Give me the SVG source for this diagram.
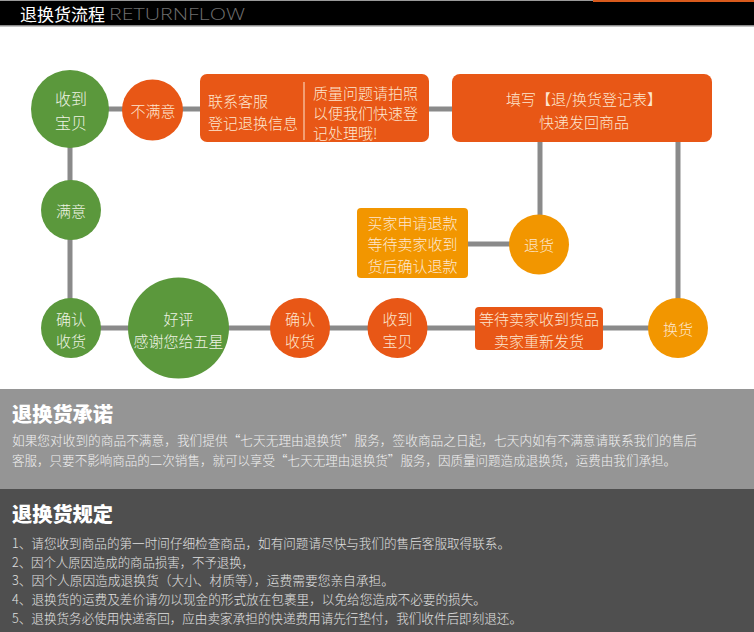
<svg xmlns="http://www.w3.org/2000/svg" width="754" height="632" viewBox="0 0 754 632">
<style>
text{font-family:"Noto Sans CJK SC","Liberation Sans",sans-serif;}
.n{font-size:15px;font-weight:300;dominant-baseline:central;text-anchor:middle;}
.g{fill:#eef3e4;}
.o{fill:#fde6cf;}
.conn{stroke:#8a8a8a;stroke-width:5;fill:none;}
.green{fill:#5b983c;}
.red{fill:#e85716;}
.amber{fill:#f29600;}
.sec{fill:#ffffff;font-size:20px;font-weight:900;dominant-baseline:central;}
.p1{fill:#f0f0f0;font-size:12.7px;font-weight:300;dominant-baseline:central;}
.p2{fill:#e0e0e0;font-size:13px;font-weight:300;dominant-baseline:central;}
</style>
<rect x="0" y="0" width="754" height="632" fill="#ffffff"/>
<!-- header -->
<rect x="0" y="0" width="754" height="1" fill="#9a9a9a"/>
<rect x="0" y="1" width="754" height="24" fill="#000000"/>
<rect x="0" y="25" width="754" height="1.5" fill="#8a8a8a"/>
<rect x="593" y="0" width="161" height="2" fill="#d85a1c"/>
<text x="20" y="13" textLength="85" lengthAdjust="spacingAndGlyphs" style="font-size:17px;fill:#ffffff;dominant-baseline:central;">退换货流程</text>
<text x="109" y="13" textLength="136" lengthAdjust="spacingAndGlyphs" style="font-family:'Open Sans','Liberation Sans',sans-serif;font-size:17px;font-weight:300;fill:#6e6e6e;dominant-baseline:central;">RETURNFLOW</text>

<!-- connectors -->
<g id="connectors">
<line class="conn" x1="70" y1="109" x2="452" y2="109"/>
<line class="conn" x1="70" y1="109" x2="70" y2="328"/>
<line class="conn" x1="70" y1="328" x2="678" y2="328"/>
<line class="conn" x1="540" y1="142" x2="540" y2="244"/>
<line class="conn" x1="678" y1="142" x2="678" y2="328"/>
<line class="conn" x1="467" y1="244" x2="540" y2="244"/>
</g>

<g id="n-receive1">
<circle class="green" cx="70" cy="109" r="39"/>
<text class="n g" x="71" y="98" style="font-size:16px">收到</text>
<text class="n g" x="71" y="122" style="font-size:16px">宝贝</text>
</g>
<g id="n-unsatisfied">
<circle class="red" cx="152.5" cy="110" r="30.5"/>
<text class="n o" x="153" y="110">不满意</text>
</g>
<g id="n-contact">
<rect class="red" x="200" y="74" width="229" height="68" rx="7"/>
<line x1="304" y1="82" x2="304" y2="140" stroke="#fde6cf" stroke-width="1"/>
<text class="n o" x="208" y="100" style="text-anchor:start">联系客服</text>
<text class="n o" x="208" y="122" style="text-anchor:start">登记退换信息</text>
<text class="n o" x="313" y="92" style="text-anchor:start">质量问题请拍照</text>
<text class="n o" x="313" y="112" style="text-anchor:start">以便我们快速登</text>
<text class="n o" x="313" y="132" style="text-anchor:start">记处理哦!</text>
</g>
<g id="n-form">
<rect class="red" x="452" y="74" width="260" height="68" rx="8"/>
<text class="n o" x="584" y="98">填写【退/换货登记表】</text>
<text class="n o" x="584" y="121">快递发回商品</text>
</g>
<g id="n-satisfied">
<circle class="green" cx="71" cy="210" r="30"/>
<text class="n g" x="71" y="210">满意</text>
</g>
<g id="n-refund-box">
<rect class="amber" x="357" y="208" width="111" height="70" rx="4"/>
<text class="n o" x="412.5" y="222">买家申请退款</text>
<text class="n o" x="412.5" y="243">等待卖家收到</text>
<text class="n o" x="412.5" y="265">货后确认退款</text>
</g>
<g id="n-return">
<circle class="amber" cx="539" cy="244.5" r="30"/>
<text class="n o" x="539" y="244.5">退货</text>
</g>
<g id="n-confirm1">
<circle class="green" cx="71" cy="328" r="30"/>
<text class="n g" x="71" y="318">确认</text>
<text class="n g" x="71" y="340">收货</text>
</g>
<g id="n-review">
<circle class="green" cx="178.5" cy="328" r="50.5"/>
<text class="n g" x="178.5" y="318">好评</text>
<text class="n g" x="178.5" y="340">感谢您给五星</text>
</g>
<g id="n-confirm2">
<circle class="red" cx="300" cy="328" r="30"/>
<text class="n o" x="300" y="318">确认</text>
<text class="n o" x="300" y="340">收货</text>
</g>
<g id="n-receive2">
<circle class="red" cx="397.5" cy="328" r="30"/>
<text class="n o" x="397.5" y="318">收到</text>
<text class="n o" x="397.5" y="340">宝贝</text>
</g>
<g id="n-resend">
<rect class="red" x="475" y="307" width="128" height="43" rx="4"/>
<text class="n o" x="539" y="318">等待卖家收到货品</text>
<text class="n o" x="539" y="340">卖家重新发货</text>
</g>
<g id="n-exchange">
<circle class="amber" cx="678" cy="328" r="30"/>
<text class="n o" x="678" y="328">换货</text>
</g>

<!-- promise section -->
<rect x="0" y="389" width="754" height="100" fill="#959595"/>
<text class="sec" x="12" y="413" textLength="101" lengthAdjust="spacingAndGlyphs">退换货承诺</text>
<text class="p1" x="12" y="439" textLength="685" lengthAdjust="spacingAndGlyphs">如果您对收到的商品不满意，我们提供“七天无理由退换货”服务，签收商品之日起，七天内如有不满意请联系我们的售后</text>
<text class="p1" x="12" y="459" textLength="664" lengthAdjust="spacingAndGlyphs">客服，只要不影响商品的二次销售，就可以享受“七天无理由退换货”服务，因质量问题造成退换货，运费由我们承担。</text>

<!-- rules section -->
<rect x="0" y="489" width="754" height="143" fill="#4f4f4f"/>
<text class="sec" x="12" y="513" textLength="101" lengthAdjust="spacingAndGlyphs">退换货规定</text>
<text class="p2" x="12" y="542" textLength="498" lengthAdjust="spacingAndGlyphs">1、请您收到商品的第一时间仔细检查商品，如有问题请尽快与我们的售后客服取得联系。</text>
<text class="p2" x="12" y="561" textLength="242" lengthAdjust="spacingAndGlyphs">2、因个人原因造成的商品损害，不予退换，</text>
<text class="p2" x="12" y="579" textLength="382" lengthAdjust="spacingAndGlyphs">3、因个人原因造成退换货（大小、材质等），运费需要您亲自承担。</text>
<text class="p2" x="12" y="598" textLength="474" lengthAdjust="spacingAndGlyphs">4、退换货的运费及差价请勿以现金的形式放在包裹里，以免给您造成不必要的损失。</text>
<text class="p2" x="12" y="617" textLength="510" lengthAdjust="spacingAndGlyphs">5、退换货务必使用快递寄回，应由卖家承担的快递费用请先行垫付，我们收件后即刻退还。</text>
</svg>
